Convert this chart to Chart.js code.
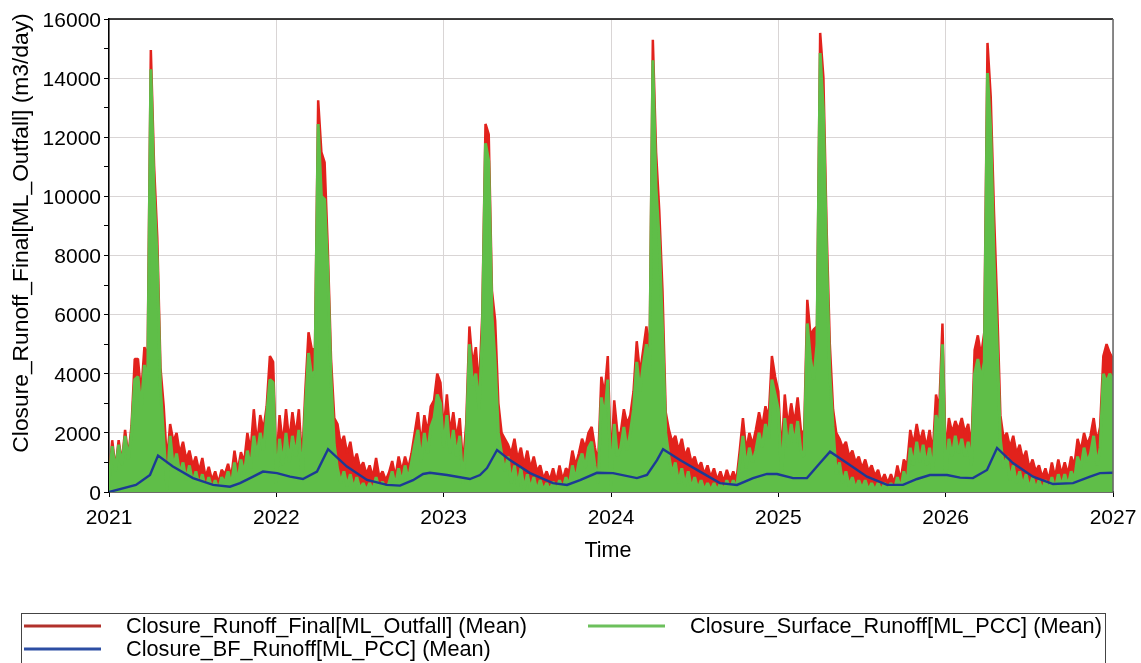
<!DOCTYPE html>
<html>
<head>
<meta charset="utf-8">
<title>Closure runoff</title>
<script src="https://cdn.jsdelivr.net/npm/chart.js@4.4.1/dist/chart.umd.min.js"></script>
<style>
  html, body { margin: 0; padding: 0; background: #fff; }
  #wrap { width: 1141px; height: 663px; position: relative; }
</style>
</head>
<body>
<div id="wrap"><canvas id="c" width="1141" height="663"></canvas></div>
<script>
// Weekly means, m3/day, one array per year (52 weeks each)
const surface2021 = [300,1550,700,1600,900,1900,1100,2000,3800,3900, 2800,4300,3500,14300,10200,7800,3500,1800,100,1900, 800,1300,600,1000,400,900,300,700,200,600, 100,500,100,400,50,500,300,700,200,1000, 300,1100,600,1400,800,1900,1200,2000,1400,2600, 3800,3700];
const surface2022 = [300,1800,900,2000,1000,1900,1200,2100,400,2800, 4700,3900,4100,12450,10000,9900,7500,3800,1600,800, 300,700,200,600,100,500,100,300,50,300, 50,500,100,350,50,300,700,200,800,300, 900,400,1000,1600,2100,1000,2000,1300,2200,2500, 3300,3000];
const surface2023 = [1500,2600,1300,2100,1200,1900,300,1700,5000,3600, 4000,2800,5300,11800,11200,6000,4400,2000,1300,700, 1200,300,900,200,800,100,600,100,500,50, 400,50,300,50,350,50,400,100,500,200, 900,400,1000,1300,800,1500,1700,900,300,3200, 2500,3800];
const surface2024 = [200,2300,1200,1500,2200,1400,2000,2800,4400,3400, 4300,5000,4000,14600,10300,8500,5500,2000,1200,600, 1000,300,800,200,700,100,500,100,400,50, 300,50,300,50,300,50,400,100,400,100, 1000,1900,800,1500,1000,1400,2000,1500,2300,1800, 3800,3300];
const surface2025 = [2800,500,2500,1500,2300,1600,2400,1400,1200,5700, 4500,3800,5000,14850,12870,8000,4000,2200,600,1000, 300,700,200,500,100,400,100,400,50,300, 50,300,50,300,50,300,50,500,100,700, 300,1500,900,1700,1000,1600,900,1500,600,2600, 2000,5000];
const surface2026 = [400,1800,1200,1900,1300,1800,1200,1700,900,4000, 4500,3800,4400,14170,12240,8000,5000,1800,800,1200, 400,900,300,700,200,600,100,500,100,400, 50,400,50,500,100,600,200,600,200,700, 400,1200,800,1500,1000,1300,1900,900,1500,4000, 3700,4000, 3800];

const final2021 = [400,1750,800,1750,1000,2100,1200,2250,4500,4500, 3300,4900,4600,14950,11050,8600,4200,2900,1000,2300, 1700,2000,1300,1700,1100,1400,900,1200,700,1150, 500,850,400,700,300,750,600,950,500,1400, 700,1350,1000,2000,1400,2800,1600,2600,2100,2900, 4600,4400];
const final2022 = [900,2600,1600,2800,1700,2700,1900,2800,1000,3400, 5400,4850,4800,13250,11500,11150,8200,4500,2500,2300, 1600,1900,1300,1700,1000,1300,800,1000,600,900, 500,1150,500,700,400,650,1050,500,1200,700, 1200,800,1300,2000,2700,1600,2600,2000,2900,3100, 4000,3700];
const final2023 = [2100,3300,2000,2700,1800,2500,900,2300,5600,4300, 4900,3500,6000,12450,12100,6800,5800,3000,2000,1800, 1600,1300,1800,1100,1500,900,1400,800,1200,700, 900,450,700,400,800,350,900,400,800,700, 1400,900,1300,1800,1500,2000,2200,1500,1000,3900, 3300,4600];
const final2024 = [900,3100,2000,2000,2800,2300,2600,3400,5100,4000, 4800,5600,4700,15300,11500,9500,6800,2700,2100,1700, 1900,1400,1800,1200,1500,1000,1200,800,1000,600, 900,500,800,400,700,350,750,400,700,400, 1400,2500,1400,2000,1600,2100,2700,2200,2900,2500, 4600,3900];
const final2025 = [3400,1200,3300,2200,3000,2300,3200,2100,1900,6500, 5300,5500,5600,15530,14030,8900,5000,2800,2000,1800, 1500,1700,1200,1400,1000,1200,800,1100,700,900, 550,750,350,600,300,600,300,900,400,1100, 900,2100,1600,2300,1700,2100,1500,2100,1300,3300, 2800,5700];
const final2026 = [1200,2500,2000,2400,2100,2500,2000,2300,1500,4800, 5300,4600,5400,15190,13370,9500,6300,2600,1800,2000, 1500,1900,1300,1600,1100,1400,800,1100,700,900, 500,800,400,1000,500,1100,600,1000,600,1200, 900,1800,1400,2000,1600,1900,2500,1700,2200,4600, 5000,4700, 4500];

// Baseflow runoff (smooth), sampled at irregular times in decimal years
const bfTime = [2021.000,2021.161,2021.245,2021.293,2021.382,2021.502,2021.622,2021.723,2021.783,2021.861,2021.920,
  2022.004,2022.082,2022.159,2022.243,2022.309,2022.422,2022.542,2022.661,2022.739,2022.817,2022.877,2022.918,
  2023.020,2023.157,2023.217,2023.259,2023.319,2023.396,2023.516,2023.653,2023.737,2023.815,2023.916,
  2024.012,2024.155,2024.215,2024.275,2024.311,2024.412,2024.532,2024.651,2024.753,2024.849,2024.932,2024.992,
  2025.088,2025.171,2025.249,2025.309,2025.410,2025.530,2025.650,2025.745,2025.829,2025.906,
  2026.008,2026.086,2026.163,2026.247,2026.307,2026.402,2026.522,2026.642,2026.761,2026.863,2026.922,2027.000];
const bfRunoff = [0,240,575,1230,860,470,240,180,300,520,690,
  640,520,440,690,1450,860,410,240,215,400,610,650,
  575,440,575,810,1420,1080,640,300,240,400,650,
  640,470,575,1080,1450,1080,690,300,240,470,610,610,
  470,470,980,1365,980,520,240,240,440,575,
  575,485,470,745,1490,980,520,270,300,520,640,650];

const yearTicks = [2021, 2022, 2023, 2024, 2025, 2026, 2027];
const seriesLabels = [
  'Closure_Runoff_Final[ML_Outfall] (Mean)',
  'Closure_Surface_Runoff[ML_PCC] (Mean)',
  'Closure_BF_Runoff[ML_PCC] (Mean)'
];
const yTitle = 'Closure_Runoff_Final[ML_Outfall] (m3/day)';
const xTitle = 'Time';

const surfaceRunoff = [].concat(surface2021, surface2022, surface2023, surface2024, surface2025, surface2026);
const finalRunoff = [].concat(final2021, final2022, final2023, final2024, final2025, final2026);
const weekTime = surfaceRunoff.map((_, i) => yearTicks[0] + i / 52);

const FONT = "'Liberation Sans', Arial, sans-serif";
const COLORS = { final: '#e2221c', surface: '#5fbe48', bf: '#1c3a94' };
const LEGEND_COLORS = { final: '#b1312b', surface: '#6cc05c', bf: '#2d4ea3' };

// Frame, axis titles and the boxed legend underneath
const decorations = {
  id: 'decorations',
  afterDraw(chart) {
    const ctx = chart.ctx;
    const a = chart.chartArea;
    ctx.save();
    ctx.strokeStyle = '#000';
    ctx.lineWidth = 1.5;
    ctx.beginPath();
    ctx.moveTo(a.left, a.top); ctx.lineTo(a.right, a.top);
    ctx.stroke();
    ctx.strokeStyle = '#666';
    ctx.lineWidth = 1.5;
    ctx.beginPath();
    ctx.moveTo(a.right, a.top); ctx.lineTo(a.right, a.bottom);
    ctx.stroke();

    ctx.fillStyle = '#000';
    ctx.textAlign = 'center';
    ctx.textBaseline = 'middle';
    ctx.save();
    ctx.font = '22.8px ' + FONT;
    ctx.translate(22, 233);
    ctx.rotate(-Math.PI / 2);
    ctx.fillText(yTitle, 0, 0);
    ctx.restore();
    ctx.font = '21.5px ' + FONT;
    ctx.fillText(xTitle, 608, 551);

    // legend
    ctx.strokeStyle = '#444';
    ctx.lineWidth = 1;
    ctx.strokeRect(21.5, 613.5, 1084, 60);
    const ds = chart.data.datasets;
    const items = [
      { label: ds[0].label, color: LEGEND_COLORS.final, x: 24, y: 626 },
      { label: ds[1].label, color: LEGEND_COLORS.surface, x: 588, y: 626 },
      { label: ds[2].label, color: LEGEND_COLORS.bf, x: 24, y: 649 }
    ];
    ctx.textAlign = 'left';
    ctx.font = '21.7px ' + FONT;
    items.forEach(it => {
      ctx.strokeStyle = it.color;
      ctx.lineWidth = 3;
      ctx.beginPath();
      ctx.moveTo(it.x, it.y); ctx.lineTo(it.x + 77, it.y);
      ctx.stroke();
      ctx.fillStyle = '#000';
      ctx.fillText(it.label, it.x + 102, it.y + 1);
    });
    ctx.restore();
  }
};

const gridColor = '#d9d5d5';

new Chart(document.getElementById('c'), {
  type: 'line',
  data: {
    datasets: [
      {
        label: seriesLabels[0],
        data: finalRunoff.map((v, i) => ({ x: weekTime[i], y: v })),
        borderColor: COLORS.final,
        backgroundColor: COLORS.final,
        fill: 'origin',
        borderWidth: 2.5,
        borderJoinStyle: 'bevel',
        tension: 0,
        pointRadius: 0,
        order: 3
      },
      {
        label: seriesLabels[1],
        data: surfaceRunoff.map((v, i) => ({ x: weekTime[i], y: v })),
        borderColor: COLORS.surface,
        backgroundColor: COLORS.surface,
        fill: 'origin',
        borderWidth: 3,
        borderJoinStyle: 'bevel',
        tension: 0,
        pointRadius: 0,
        order: 2
      },
      {
        label: seriesLabels[2],
        data: bfRunoff.map((v, i) => ({ x: bfTime[i], y: v })),
        borderColor: COLORS.bf,
        borderWidth: 2.4,
        tension: 0,
        pointRadius: 0,
        order: 1
      }
    ]
  },
  options: {
    responsive: false,
    animation: false,
    devicePixelRatio: 1,
    layout: { padding: { top: 19, right: 28, left: 0, bottom: 0 } },
    plugins: { legend: { display: false }, tooltip: { enabled: false }, filler: { drawTime: 'beforeDatasetDraw' } },
    scales: {
      x: {
        type: 'linear',
        min: yearTicks[0],
        max: yearTicks[yearTicks.length - 1],
        afterBuildTicks: s => { s.ticks = yearTicks.map(v => ({ value: v })); },
        ticks: {
          callback: v => String(v),
          color: '#000',
          font: { family: FONT, size: 21 },
          padding: 9,
          maxRotation: 0,
          autoSkip: false
        },
        grid: { color: gridColor, lineWidth: 1, tickLength: 5, tickColor: '#000' },
        border: { color: '#000', width: 1.5 },
        afterFit: s => { s.height = 171; s.paddingLeft = 0; s.paddingRight = 0; }
      },
      y: {
        min: 0,
        max: 16000,
        ticks: {
          stepSize: 1000,
          callback: v => (v % 2000 === 0 ? String(v) : ''),
          color: '#000',
          font: { family: FONT, size: 21 },
          padding: 3,
          labelOffset: 2
        },
        grid: {
          color: c => (c.tick && c.tick.value % 2000 === 0 ? gridColor : 'rgba(0,0,0,0)'),
          lineWidth: 1,
          tickLength: 5,
          tickColor: '#000'
        },
        border: { color: '#000', width: 1.5 },
        afterFit: s => { s.width = 109; s.paddingTop = 0; s.paddingBottom = 0; }
      }
    }
  },
  plugins: [decorations]
});
</script>
</body>
</html>
